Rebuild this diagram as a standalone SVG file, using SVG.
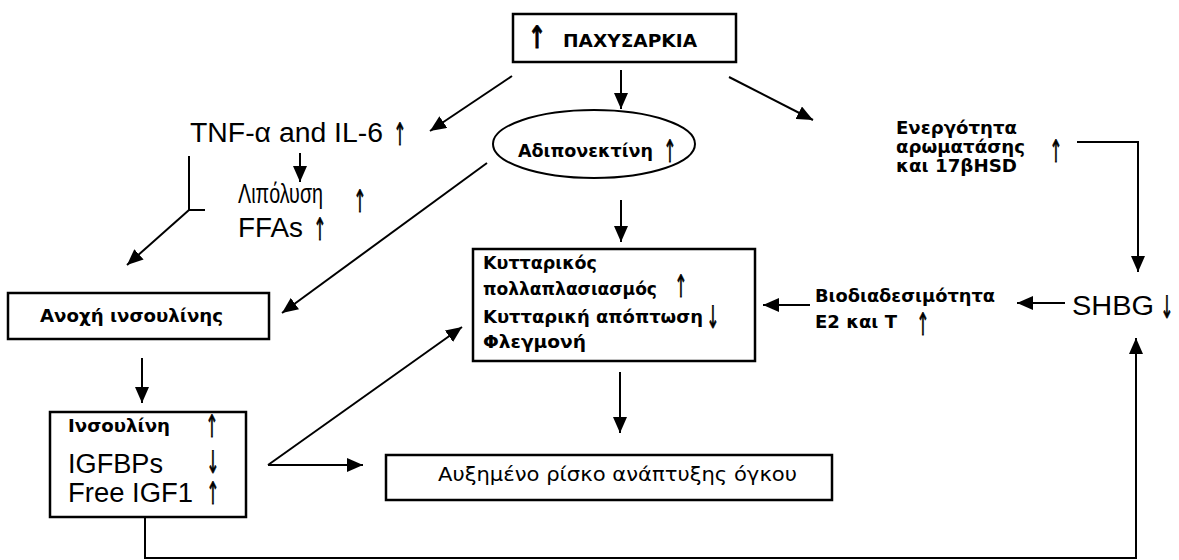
<svg xmlns="http://www.w3.org/2000/svg" width="1179" height="560" viewBox="0 0 1179 560">
<defs>
<marker id="ah" viewBox="0 0 16 14" refX="16" refY="7" markerWidth="16" markerHeight="14" markerUnits="userSpaceOnUse" orient="auto">
<path d="M0,0 L16,7 L0,14 z" fill="#000"/>
</marker>
</defs>
<style>
.box{fill:#fff;stroke:#000;stroke-width:2.5}
.ln{fill:none;stroke:#000;stroke-width:2}
.arr{fill:none;stroke:#000;stroke-width:2;marker-end:url(#ah)}
.b{font-family:"DejaVu Sans",Verdana,sans-serif;font-weight:bold;font-size:18px;fill:#000}
.r{font-family:"Liberation Sans",Arial,sans-serif;font-size:27px;fill:#000}
.v{font-family:"DejaVu Sans",Verdana,sans-serif;font-size:19px;fill:#000}
.ar{font-family:"DejaVu Sans",sans-serif;font-size:31px;fill:#000;stroke:#000;stroke-width:0.8;text-anchor:middle}
</style>
<rect width="1179" height="560" fill="#fff"/>
<g id="connectors">
<path class="arr" d="M512,76 L430,131"/>
<path class="arr" d="M621,70 V109"/>
<path class="arr" d="M729,77 L813,120"/>
<path class="arr" d="M300,153 V182"/>
<path class="ln" d="M189,156 V210 H205"/>
<path class="arr" d="M189,210 L127,265"/>
<path class="arr" d="M487,163 L282,313"/>
<path class="arr" d="M621,200 V242"/>
<path class="arr" d="M1077,142 H1138 V272"/>
<path class="arr" d="M1065,303 H1017"/>
<path class="arr" d="M810,305 H763"/>
<path class="arr" d="M142,358 V403"/>
<path class="arr" d="M268,465 L462,327"/>
<path class="arr" d="M268,465 H363"/>
<path class="arr" d="M620,372 V433"/>
<path class="arr" d="M145,517 V558 H1136 V338"/>
</g>
<g id="obesity">
<rect class="box" x="513" y="14" width="223" height="48"/>
<text class="ar" transform="translate(537,48) scale(0.7,1)" font-size="34" font-weight="bold">↑</text>
<text class="b" x="563" y="47" font-size="17" textLength="134" lengthAdjust="spacingAndGlyphs">ΠΑΧΥΣΑΡΚΙΑ</text>
</g>
<g id="tnf">
<text class="r" x="190" y="142" font-size="28" textLength="193" lengthAdjust="spacingAndGlyphs">TNF-α and IL-6</text>
<text class="ar" transform="translate(400,145) scale(0.5,1)">↑</text>
</g>
<g id="lipolysis">
<text class="r" x="238" y="203" font-size="19" textLength="85" lengthAdjust="spacingAndGlyphs">Λιπόλυση</text>
<text class="ar" transform="translate(360,212) scale(0.5,1)" font-size="38">↑</text>
</g>
<g id="ffas">
<text class="r" x="238" y="237" textLength="65" lengthAdjust="spacingAndGlyphs">FFAs</text>
<text class="ar" transform="translate(320,240) scale(0.5,1)">↑</text>
</g>
<g id="adiponectin">
<ellipse cx="594" cy="144" rx="101" ry="34" fill="#fff" stroke="#000" stroke-width="2"/>
<text class="b" x="518" y="157" textLength="135" lengthAdjust="spacingAndGlyphs">Αδιπονεκτίνη</text>
<text class="ar" transform="translate(670,162) scale(0.5,1)" font-size="41">↑</text>
</g>
<g id="aromatase">
<text class="b" x="896" y="134" textLength="121" lengthAdjust="spacingAndGlyphs">Ενεργότητα</text>
<text class="b" x="896" y="153" textLength="129" lengthAdjust="spacingAndGlyphs">αρωματάσης</text>
<text class="b" x="896" y="172" textLength="121" lengthAdjust="spacingAndGlyphs">και 17βHSD</text>
<text class="ar" transform="translate(1056,162) scale(0.5,1)" font-size="38">↑</text>
</g>
<g id="shbg">
<text class="r" x="1072" y="315" font-size="28" textLength="82" lengthAdjust="spacingAndGlyphs">SHBG</text>
<text class="ar" transform="translate(1167,318) scale(0.5,1)" font-size="34">↓</text>
</g>
<g id="bioavailability">
<text class="b" x="815" y="302" textLength="180" lengthAdjust="spacingAndGlyphs">Βιοδιαδεσιμότητα</text>
<text class="b" x="815" y="328" textLength="82" lengthAdjust="spacingAndGlyphs">Ε2 και Τ</text>
<text class="ar" transform="translate(923,335) scale(0.5,1)" font-size="34">↑</text>
</g>
<g id="cellular">
<rect class="box" x="473" y="249" width="282" height="112"/>
<text class="b" x="483" y="269" textLength="114" lengthAdjust="spacingAndGlyphs">Κυτταρικός</text>
<text class="b" x="483" y="295" textLength="174" lengthAdjust="spacingAndGlyphs">πολλαπλασιασμός</text>
<text class="ar" transform="translate(681,297) scale(0.5,1)" font-size="29">↑</text>
<text class="b" x="483" y="323" textLength="220" lengthAdjust="spacingAndGlyphs">Κυτταρική απόπτωση</text>
<text class="ar" transform="translate(713,328) scale(0.5,1)" font-size="34">↓</text>
<text class="b" x="483" y="348" textLength="103" lengthAdjust="spacingAndGlyphs">Φλεγμονή</text>
</g>
<g id="insulin-resistance">
<rect class="box" x="8" y="293" width="261" height="46" stroke-width="2"/>
<text class="b" x="40" y="322" textLength="183" lengthAdjust="spacingAndGlyphs">Ανοχή ινσουλίνης</text>
</g>
<g id="insulin">
<rect class="box" x="50" y="412" width="196" height="105" stroke-width="2"/>
<text class="b" x="68" y="432" font-size="17" textLength="102" lengthAdjust="spacingAndGlyphs">Ινσουλίνη</text>
<text class="ar" transform="translate(212,437) scale(0.5,1)" font-size="28">↑</text>
<text class="r" x="68" y="473" textLength="95" lengthAdjust="spacingAndGlyphs">IGFBPs</text>
<text class="ar" transform="translate(213,473) scale(0.5,1)" font-size="24">↓</text>
<text class="r" x="68" y="502" textLength="125" lengthAdjust="spacingAndGlyphs">Free IGF1</text>
<text class="ar" transform="translate(213,504) scale(0.5,1)" font-size="20">↑</text>
</g>
<g id="risk">
<rect class="box" x="386" y="455" width="446" height="45" stroke-width="2"/>
<text class="v" x="438" y="481" textLength="359" lengthAdjust="spacingAndGlyphs">Αυξημένο ρίσκο ανάπτυξης όγκου</text>
</g>
</svg>
